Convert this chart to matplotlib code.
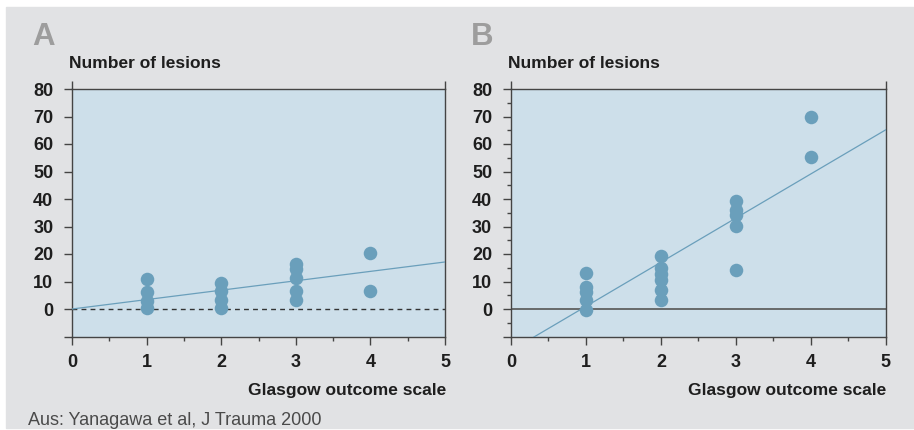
import numpy as np
import matplotlib
matplotlib.use('Agg')
import matplotlib.pyplot as plt
from matplotlib.patches import Rectangle

plt.rcParams['font.family'] = ['Liberation Sans', 'DejaVu Sans']

# panel A data (Glasgow outcome scale vs. number of lesions)
a_x = [1, 1, 1, 1, 2, 2, 2, 2, 3, 3, 3, 3, 3, 4, 4]
a_y = [11, 6.3, 3, 0.5, 9.5, 6.4, 3.2, 0.5, 16.5, 14.6, 11.2, 6.5, 3.3, 20.5, 6.4]
a_fit = (0.0, 3.42)     # intercept, slope

# panel B data
b_x = [1, 1, 1, 1, 1, 2, 2, 2, 2, 2, 2, 3, 3, 3, 3, 3, 4, 4]
b_y = [13, 7.9, 6.1, 3.1, -0.5, 19.3, 15, 12.9, 10.7, 7, 3.1,
       39.2, 35.9, 34.3, 30.2, 14.3, 70, 55.2]
b_fit = (-15.1, 16.05)

panel_letters = ['A', 'B']
y_label = 'Number of lesions'
x_label = 'Glasgow outcome scale'
source = 'Aus: Yanagawa et al, J Trauma 2000'

W, H = 914, 430
BG = '#e1e2e4'
FACE = '#cddfea'
DOT = '#6a9fbb'
DARK = '#444444'
TXT = '#1e1e1e'

fig = plt.figure(figsize=(W / 100, H / 100), dpi=100)
fig.patch.set_facecolor('white')
fig.patches.append(Rectangle((6 / W, 2 / H), 1 - 6 / W, (H - 9) / H,
                             transform=fig.transFigure, color=BG, zorder=-10))


def fx(px):
    return px / W


def fy(py):
    return (H - py) / H


def make_panel(left, right, xs, ys, fit, letter, minor_y, dashed_zero):
    top, bottom = 89, 336.5
    ax = fig.add_axes([fx(left), fy(bottom), fx(right - left), (bottom - top) / H])
    ax.set_facecolor(FACE)
    ax.set_xlim(0, 5)
    ax.set_ylim(-10, 80)

    for s in ax.spines.values():
        s.set_color(DARK)
        s.set_linewidth(1.0)

    ax.set_xticks(range(0, 6))
    ax.set_xticks(np.arange(0.5, 5, 1.0), minor=True)
    ax.set_yticks(range(-10, 90, 10))
    ax.set_yticklabels([''] + [str(v) for v in range(0, 90, 10)])
    if minor_y:
        ax.set_yticks(np.arange(-5, 80, 10), minor=True)
    ax.tick_params(which='major', direction='out', length=6, width=1.0,
                   color=DARK, labelsize=13, labelcolor=TXT)
    ax.tick_params(axis='x', which='major', pad=6.5)
    ax.tick_params(axis='y', which='major', pad=7.5)
    ax.tick_params(which='minor', direction='out', length=3, width=1.0, color=DARK)
    for lab in ax.get_xticklabels() + ax.get_yticklabels():
        lab.set_fontweight('bold')

    # spines poke above the top edge
    ext = 8 / (bottom - top)
    for xv in (0, 1):
        ax.plot([xv, xv], [1, 1 + ext], transform=ax.transAxes, color=DARK,
                lw=1.0, clip_on=False, solid_capstyle='butt')

    if dashed_zero:
        ax.axhline(0, color='#333333', lw=1.0, dashes=(3.5, 3), zorder=2)
    else:
        ax.axhline(0, color='#555555', lw=1.2, zorder=2)

    ax.scatter(xs, ys, s=95, color=DOT, linewidths=0, zorder=3, clip_on=False)
    lx = np.array([0, 5])
    ax.plot(lx, fit[0] + fit[1] * lx, color=DOT, lw=0.9, zorder=4)

    fig.text(fx(left - 3), fy(67.7), y_label, fontsize=12.5, color=TXT,
             fontweight='bold', va='baseline', ha='left')
    fig.text(fx(right + 1), fy(395), x_label, fontsize=12.5, color=TXT,
             fontweight='bold', va='baseline', ha='right')
    fig.text(fx(left - 40), fy(45), letter, fontsize=22.5, fontweight='bold',
             color='#9d9d9d', va='baseline', ha='left')
    return ax


make_panel(72, 445, a_x, a_y, a_fit, panel_letters[0], False, True)
make_panel(511, 885.7, b_x, b_y, b_fit, panel_letters[1], True, False)

fig.text(fx(28), fy(425), source, fontsize=13, color='#4a4a4a',
         va='baseline', ha='left')

fig.savefig('out.png', dpi=100, facecolor=fig.get_facecolor())
